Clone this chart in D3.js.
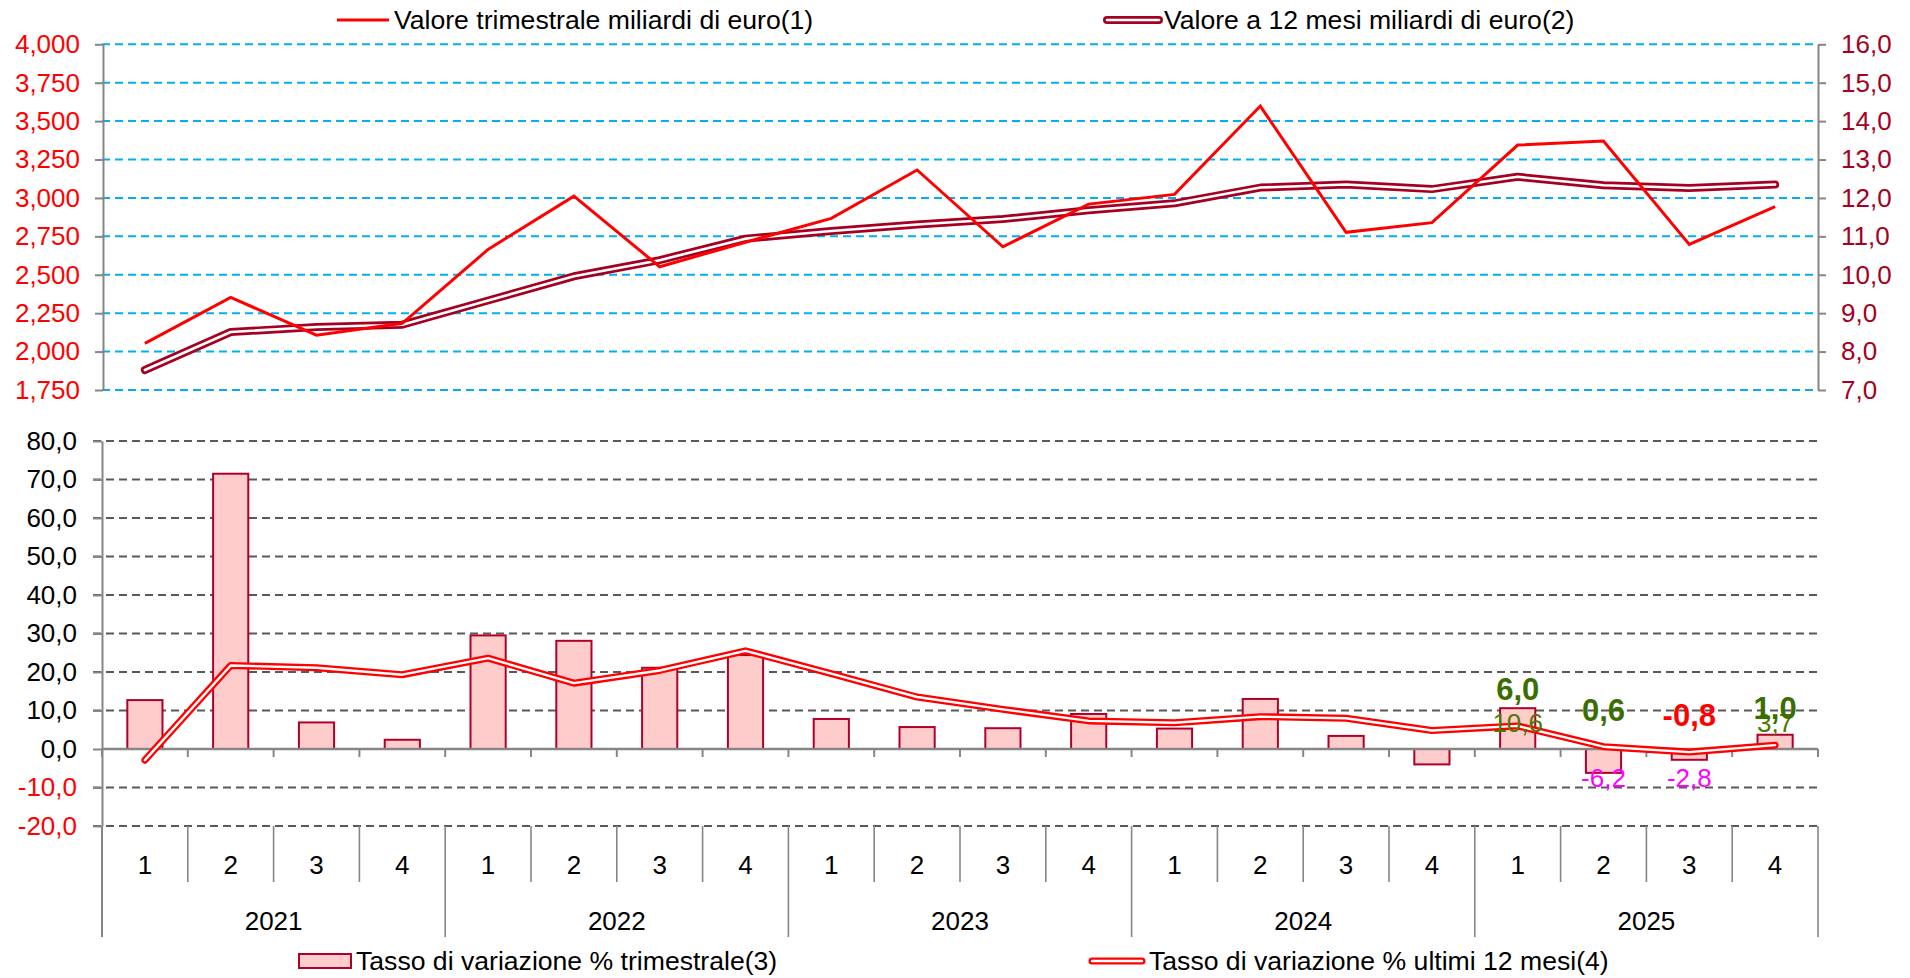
<!DOCTYPE html>
<html>
<head>
<meta charset="utf-8">
<script src="https://cdn.jsdelivr.net/npm/d3@7"></script>
<style>
  html, body { margin: 0; padding: 0; background: #fff; }
  svg { display: block; font-family: "Liberation Sans", Arial, sans-serif; }
</style>
</head>
<body>
<svg id="chart" width="1910" height="978"></svg>
<script>
// ---------------- DATA ----------------
const years = ["2021", "2022", "2023", "2024", "2025"];
const quarters = ["1", "2", "3", "4"];
// Valore trimestrale (left axis, top panel)
const quarterlyValue = [2053, 2353, 2107, 2184, 2665, 3012, 2552, 2712, 2867, 3182, 2682, 2960, 3023, 3598, 2776, 2839, 3344, 3370, 2698, 2943];
// Valore a 12 mesi (right axis, top panel)
const annualValue = [7.52, 8.51, 8.64, 8.70, 9.33, 9.96, 10.38, 10.94, 11.14, 11.31, 11.45, 11.68, 11.86, 12.27, 12.35, 12.23, 12.55, 12.33, 12.26, 12.35];
// Tasso di variazione % trimestrale (bars, bottom panel)
const quarterlyRate = [12.7, 71.5, 6.9, 2.4, 29.5, 28.1, 21.1, 24.4, 7.8, 5.7, 5.4, 9.1, 5.3, 13.0, 3.4, -4.0, 10.6, -6.2, -2.8, 3.7];
// Tasso di variazione % ultimi 12 mesi (double line, bottom panel)
const annualRate = [-2.9, 21.7, 21.1, 19.3, 23.6, 17.1, 20.4, 25.5, 19.6, 13.5, 10.3, 7.3, 6.8, 8.4, 8.0, 4.8, 6.0, 0.6, -0.8, 1.0];
// which points carry data labels
const labelledPoints = [16, 17, 18, 19];
// axis ticks
const leftTicks = [1750, 2000, 2250, 2500, 2750, 3000, 3250, 3500, 3750, 4000];
const rightTicks = [7, 8, 9, 10, 11, 12, 13, 14, 15, 16];
const rateTicks = [-20, -10, 0, 10, 20, 30, 40, 50, 60, 70, 80];
const legendTop = ["Valore trimestrale miliardi di euro(1)", "Valore a 12 mesi miliardi di euro(2)"];
const legendBottom = ["Tasso di variazione % trimestrale(3)", "Tasso di variazione % ultimi 12 mesi(4)"];

// ---------------- SETUP ----------------
const svg = d3.select("#chart");
const FONT = 26;
const LEGEND_FONT = 26.6;
const RED = "#FF0000", MAROON = "#A50021", GRID_BLUE = "#00B0F0", AXIS_GRAY = "#868686";
const GREEN = "#3B6E00", MAGENTA = "#FF00FF";

const itLocale = d3.formatLocale({ decimal: ",", thousands: ".", grouping: [3], currency: ["€", ""], minus: "-" });
const fmt1 = itLocale.format(".1f");
const fmtThousands = d3.format(",d");

const cats = [];
years.forEach(y => quarters.forEach(q => cats.push(y + "-" + q)));

const X0 = 102, X1 = 1818;
const x = d3.scaleBand().domain(cats).range([X0, X1]).paddingInner(0).paddingOuter(0);
const cx = i => x(cats[i]) + x.bandwidth() / 2;

// top panel scales
const yL = d3.scaleLinear().domain([1750, 4000]).range([390, 44.3]);
const yR = d3.scaleLinear().domain([7, 16]).range([390, 44.3]);
// bottom panel scale
const yB = d3.scaleLinear().domain([-20, 80]).range([826, 441]);

// ---------------- TOP PANEL ----------------
const topG = svg.append("g");
// gridlines
topG.append("g").selectAll("line").data(leftTicks).join("line")
  .attr("x1", X0).attr("x2", X1)
  .attr("y1", d => yL(d)).attr("y2", d => yL(d))
  .attr("stroke", GRID_BLUE).attr("stroke-width", 2).attr("stroke-dasharray", "8,5");

// left axis
const axL = topG.append("g").attr("transform", `translate(${X0 + 1},0)`)
  .call(d3.axisLeft(yL).tickValues(leftTicks).tickFormat(fmtThousands).tickSizeInner(8).tickSizeOuter(0).tickPadding(15));
axL.select(".domain").attr("stroke", AXIS_GRAY).attr("stroke-width", 2);
axL.selectAll(".tick line").attr("stroke", AXIS_GRAY).attr("stroke-width", 2);
axL.selectAll("text").attr("fill", RED).attr("font-size", FONT).attr("font-family", "Liberation Sans, Arial");

// right axis
const axR = topG.append("g").attr("transform", `translate(${X1},0)`)
  .call(d3.axisRight(yR).tickValues(rightTicks).tickFormat(fmt1).tickSizeInner(8).tickSizeOuter(0).tickPadding(15));
axR.select(".domain").attr("stroke", AXIS_GRAY).attr("stroke-width", 2);
axR.selectAll(".tick line").attr("stroke", AXIS_GRAY).attr("stroke-width", 2);
axR.selectAll("text").attr("fill", MAROON).attr("font-size", FONT).attr("font-family", "Liberation Sans, Arial");

// 12-month value double line
const lineAnnual = d3.line().x((d, i) => cx(i)).y(d => yR(d));
topG.append("path").datum(annualValue).attr("d", lineAnnual)
  .attr("fill", "none").attr("stroke", MAROON).attr("stroke-width", 8)
  .attr("stroke-linecap", "round").attr("stroke-linejoin", "round");
topG.append("path").datum(annualValue).attr("d", lineAnnual)
  .attr("fill", "none").attr("stroke", "#fff").attr("stroke-width", 2.6)
  .attr("stroke-linecap", "round").attr("stroke-linejoin", "round");

// quarterly value line
const lineQ = d3.line().x((d, i) => cx(i)).y(d => yL(d));
topG.append("path").datum(quarterlyValue).attr("d", lineQ)
  .attr("fill", "none").attr("stroke", RED).attr("stroke-width", 3)
  .attr("stroke-linejoin", "miter");

// top legend
const lt = svg.append("g");
lt.append("line").attr("x1", 337).attr("x2", 389).attr("y1", 20).attr("y2", 20)
  .attr("stroke", RED).attr("stroke-width", 3);
lt.append("text").attr("x", 394).attr("y", 29).attr("font-size", LEGEND_FONT).attr("fill", "#000").text(legendTop[0]);
lt.append("line").attr("x1", 1107).attr("x2", 1159).attr("y1", 20).attr("y2", 20)
  .attr("stroke", MAROON).attr("stroke-width", 8).attr("stroke-linecap", "round");
lt.append("line").attr("x1", 1107).attr("x2", 1159).attr("y1", 20).attr("y2", 20)
  .attr("stroke", "#fff").attr("stroke-width", 2.6).attr("stroke-linecap", "round");
lt.append("text").attr("x", 1164).attr("y", 29).attr("font-size", LEGEND_FONT).attr("fill", "#000").text(legendTop[1]);

// ---------------- BOTTOM PANEL ----------------
const botG = svg.append("g");
// gridlines (excluding zero)
botG.append("g").selectAll("line").data(rateTicks.filter(d => d !== 0)).join("line")
  .attr("x1", X0 - 9).attr("x2", X1)
  .attr("y1", d => yB(d)).attr("y2", d => yB(d))
  .attr("stroke", "#595959").attr("stroke-width", 2).attr("stroke-dasharray", "8,5");

// left axis
const axB = botG.append("g").attr("transform", `translate(${X0},0)`)
  .call(d3.axisLeft(yB).tickValues(rateTicks).tickFormat(fmt1).tickSizeInner(9).tickSizeOuter(0).tickPadding(16));
axB.select(".domain").attr("stroke", AXIS_GRAY).attr("stroke-width", 2);
axB.selectAll(".tick line").attr("stroke", AXIS_GRAY).attr("stroke-width", 2);
axB.selectAll("text").attr("fill", d => d < 0 ? RED : "#000").attr("font-size", FONT).attr("font-family", "Liberation Sans, Arial");
// extend left axis line through category area
botG.append("line").attr("x1", X0).attr("x2", X0).attr("y1", yB(-20)).attr("y2", 937)
  .attr("stroke", AXIS_GRAY).attr("stroke-width", 2);

// bars
const barW = x.bandwidth() * 0.41;
botG.append("g").selectAll("rect").data(quarterlyRate).join("rect")
  .attr("x", (d, i) => cx(i) - barW / 2)
  .attr("width", barW)
  .attr("y", d => yB(Math.max(0, d)))
  .attr("height", d => Math.abs(yB(d) - yB(0)))
  .attr("fill", "#FFCCCC").attr("stroke", "#B0002A").attr("stroke-width", 2);

// zero axis line with small ticks at category boundaries
botG.append("line").attr("x1", X0).attr("x2", X1).attr("y1", yB(0)).attr("y2", yB(0))
  .attr("stroke", AXIS_GRAY).attr("stroke-width", 2.5);
const boundaries = d3.range(cats.length + 1).map(i => X0 + i * x.bandwidth());
botG.append("g").selectAll("line").data(boundaries).join("line")
  .attr("x1", d => d).attr("x2", d => d)
  .attr("y1", yB(0)).attr("y2", yB(0) + 8)
  .attr("stroke", AXIS_GRAY).attr("stroke-width", 2);

// category axis below panel
botG.append("g").selectAll("line").data(boundaries).join("line")
  .attr("x1", d => d).attr("x2", d => d)
  .attr("y1", yB(-20)).attr("y2", (d, i) => i % 4 === 0 ? 937 : 882)
  .attr("stroke", AXIS_GRAY).attr("stroke-width", 1.6);
botG.append("g").selectAll("text").data(cats).join("text")
  .attr("x", (d, i) => cx(i)).attr("y", 865).attr("dy", "0.35em")
  .attr("text-anchor", "middle").attr("font-size", FONT).attr("fill", "#000")
  .text(d => d.split("-")[1]);
botG.append("g").selectAll("text").data(years).join("text")
  .attr("x", (d, i) => X0 + (i * 4 + 2) * x.bandwidth()).attr("y", 921).attr("dy", "0.35em")
  .attr("text-anchor", "middle").attr("font-size", FONT).attr("fill", "#000")
  .text(d => d);

// 12-month rate double line
const lineRate = d3.line().x((d, i) => cx(i)).y(d => yB(d));
botG.append("path").datum(annualRate).attr("d", lineRate)
  .attr("fill", "none").attr("stroke", RED).attr("stroke-width", 7)
  .attr("stroke-linecap", "round").attr("stroke-linejoin", "round");
botG.append("path").datum(annualRate).attr("d", lineRate)
  .attr("fill", "none").attr("stroke", "#fff").attr("stroke-width", 2.4)
  .attr("stroke-linecap", "round").attr("stroke-linejoin", "round");

// data labels: quarterly rate
botG.append("g").selectAll("text").data(labelledPoints).join("text")
  .attr("x", i => cx(i))
  .attr("y", i => quarterlyRate[i] >= 0 ? yB(0) - 17 : yB(0) + 38)
  .attr("text-anchor", "middle").attr("font-size", FONT)
  .attr("fill", i => quarterlyRate[i] >= 0 ? "#4A7A00" : MAGENTA)
  .text(i => fmt1(quarterlyRate[i]));
// data labels: 12-month rate (bold)
botG.append("g").selectAll("text").data(labelledPoints).join("text")
  .attr("x", i => cx(i))
  .attr("y", i => yB(annualRate[i]) - 26)
  .attr("text-anchor", "middle").attr("font-size", 31).attr("font-weight", "bold")
  .attr("fill", i => annualRate[i] >= 0 ? GREEN : RED)
  .text(i => fmt1(annualRate[i]));

// bottom legend
const lb = svg.append("g");
lb.append("rect").attr("x", 299).attr("y", 954).attr("width", 52).attr("height", 14)
  .attr("fill", "#FFCCCC").attr("stroke", "#B0002A").attr("stroke-width", 2);
lb.append("text").attr("x", 356).attr("y", 970).attr("font-size", LEGEND_FONT).attr("fill", "#000").text(legendBottom[0]);
lb.append("line").attr("x1", 1092).attr("x2", 1142).attr("y1", 961).attr("y2", 961)
  .attr("stroke", RED).attr("stroke-width", 7).attr("stroke-linecap", "round");
lb.append("line").attr("x1", 1092).attr("x2", 1142).attr("y1", 961).attr("y2", 961)
  .attr("stroke", "#fff").attr("stroke-width", 2.4).attr("stroke-linecap", "round");
lb.append("text").attr("x", 1149).attr("y", 970).attr("font-size", LEGEND_FONT).attr("fill", "#000").text(legendBottom[1]);
</script>
</body>
</html>
